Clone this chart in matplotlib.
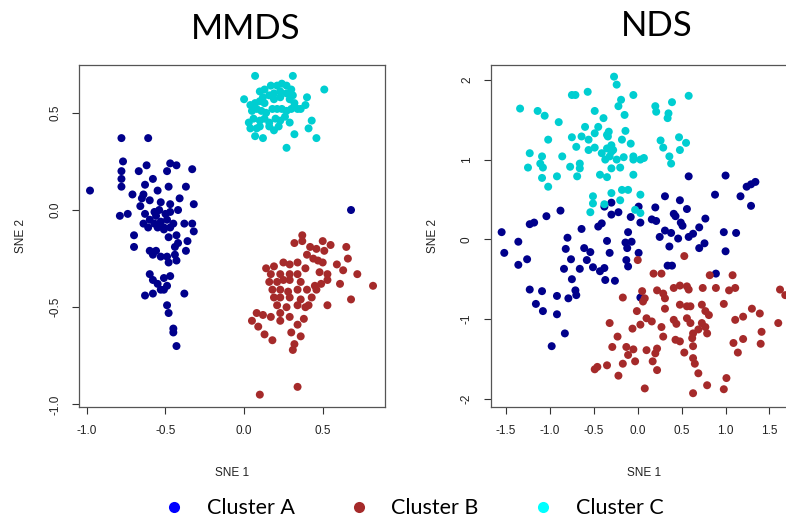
import numpy as np
import matplotlib
matplotlib.use("Agg")
from matplotlib import pyplot as plt
from matplotlib.lines import Line2D

# ---- MMDS panel ----
mmds_a_x = [-0.98, -0.78, -0.61, -0.77, -0.78, -0.78, -0.78, -0.62, -0.67, -0.58, -0.63, -0.47, -0.43,
            -0.49, -0.33, -0.37, -0.48, -0.55, -0.71, -0.64, -0.65, -0.41, -0.60, -0.53, -0.47, -0.32,
            -0.66, -0.79, -0.74, -0.63, -0.57, -0.54, -0.50, -0.47, -0.42, -0.64, -0.60, -0.57, -0.53,
            -0.49, -0.45, -0.38, -0.33, -0.32, -0.61, -0.55, -0.51, -0.47, -0.43, -0.36, -0.42, -0.70,
            -0.70, -0.48, -0.44, -0.60, -0.58, -0.53, -0.49, -0.37, -0.56, -0.43, -0.48, -0.60, -0.58,
            -0.55, -0.51, -0.47, -0.49, -0.53, -0.58, -0.63, -0.38, -0.49, -0.48, -0.45, -0.45, -0.43,
            -0.51, -0.44, -0.56, -0.51, 0.68]
mmds_a_y = [0.10, 0.37, 0.37, 0.25, 0.20, 0.16, 0.12, 0.23, 0.20, 0.16, 0.13, 0.24, 0.23,
            0.20, 0.21, 0.12, 0.12, 0.10, 0.08, 0.08, 0.06, 0.06, 0.05, 0.04, 0.03, 0.03,
            0.02, -0.03, -0.02, -0.02, -0.01, 0.00, -0.02, -0.01, 0.00, -0.07, -0.05, -0.07, -0.06,
            -0.05, -0.07, -0.07, -0.07, -0.11, -0.09, -0.09, -0.10, -0.09, -0.13, -0.16, -0.17, -0.13,
            -0.19, -0.14, -0.19, -0.21, -0.23, -0.24, -0.24, -0.21, -0.21, -0.26, -0.27, -0.33, -0.36,
            -0.38, -0.35, -0.34, -0.39, -0.41, -0.43, -0.44, -0.43, -0.49, -0.53, -0.61, -0.63, -0.70,
            -0.41, -0.23, -0.03, -0.09, 0.00]

mmds_b_x = [0.37, 0.32, 0.37, 0.50, 0.55, 0.42, 0.46, 0.51, 0.65, 0.40, 0.44, 0.47, 0.50, 0.66,
            0.14, 0.19, 0.25, 0.29, 0.34, 0.39, 0.59, 0.63, 0.72, 0.17, 0.23, 0.29, 0.34, 0.48,
            0.53, 0.53, 0.16, 0.21, 0.25, 0.29, 0.36, 0.45, 0.49, 0.61, 0.82, 0.18, 0.23, 0.28,
            0.34, 0.40, 0.46, 0.19, 0.23, 0.29, 0.36, 0.43, 0.68, 0.21, 0.27, 0.34, 0.39, 0.41,
            0.53, 0.08, 0.12, 0.17, 0.23, 0.05, 0.23, 0.29, 0.38, 0.09, 0.34, 0.30, 0.36, 0.13,
            0.18, 0.32, 0.31, 0.10, 0.34]
mmds_b_y = [-0.13, -0.17, -0.16, -0.16, -0.18, -0.19, -0.20, -0.21, -0.19, -0.23, -0.25, -0.26, -0.27, -0.25,
            -0.30, -0.29, -0.27, -0.28, -0.27, -0.30, -0.28, -0.31, -0.33, -0.33, -0.33, -0.33, -0.33, -0.32,
            -0.33, -0.36, -0.37, -0.37, -0.36, -0.36, -0.37, -0.39, -0.38, -0.38, -0.39, -0.41, -0.41, -0.42,
            -0.41, -0.41, -0.41, -0.45, -0.45, -0.45, -0.46, -0.45, -0.46, -0.49, -0.50, -0.49, -0.50, -0.49,
            -0.49, -0.53, -0.54, -0.55, -0.53, -0.57, -0.57, -0.55, -0.56, -0.60, -0.59, -0.63, -0.65, -0.64,
            -0.67, -0.69, -0.72, -0.95, -0.91]

mmds_c_x = [0.07, 0.31, 0.51, 0.00, 0.40, 0.39, 0.43, 0.41, 0.46, 0.32, 0.27, 0.07, 0.12, 0.19, 0.08,
            0.04, 0.10, 0.13, 0.17, 0.21, 0.24, 0.27, 0.30, 0.12, 0.16, 0.19, 0.23, 0.27, 0.31, 0.04,
            0.07, 0.10, 0.13, 0.19, 0.23, 0.29, 0.32, 0.34, 0.05, 0.08, 0.11, 0.14, 0.18, 0.21, 0.24,
            0.27, 0.30, 0.06, 0.10, 0.13, 0.16, 0.20, 0.23, 0.26, 0.29, 0.10, 0.16, 0.22, 0.03, 0.36]
mmds_c_y = [0.69, 0.69, 0.62, 0.57, 0.58, 0.54, 0.46, 0.42, 0.37, 0.39, 0.32, 0.38, 0.37, 0.41, 0.42,
            0.42, 0.61, 0.62, 0.64, 0.64, 0.65, 0.64, 0.62, 0.58, 0.59, 0.60, 0.61, 0.60, 0.59, 0.54,
            0.55, 0.56, 0.55, 0.57, 0.58, 0.57, 0.55, 0.52, 0.51, 0.52, 0.51, 0.50, 0.52, 0.52, 0.52,
            0.51, 0.52, 0.47, 0.46, 0.47, 0.45, 0.47, 0.46, 0.48, 0.45, 0.43, 0.43, 0.43, 0.45, 0.52]

# ---- NDS panel ----
nds_a_x = [-1.55, -1.52, -1.36, -1.36, -1.26, -1.23, -1.18, -1.04, -0.88, -1.23, -1.09, -1.16, -1.08,
           -0.92, -0.92, -0.83, -0.98, -0.80, -0.82, -0.76, -0.84, -0.75, -0.79, -0.71, -0.70, -0.66,
           -0.64, -0.61, -0.54, -0.58, -0.51, -0.43, -0.38, -0.37, -0.26, -0.45, -0.41, -0.35, -0.32,
           -0.38, -0.30, -0.30, -0.22, -0.11, -0.14, -0.12, -0.07, -0.13, -0.11, 0.01, -0.08, 0.01,
           0.03, 0.16, 0.21, 0.20, 0.31, 0.41, 0.43, 0.48, 0.49, 0.51, 0.56, 0.46, 0.31, 0.38, 0.25,
           0.36, 0.34, 0.39, 0.58, 0.63, 0.70, 0.77, 0.70, 0.76, 0.58, 1.00, 0.88, 1.17, 1.24, 1.29,
           1.34, 1.29, 0.98, 1.12, 1.00, 0.89, 0.03]
nds_a_y = [0.09, -0.17, -0.03, -0.32, -0.25, 0.19, 0.21, 0.29, 0.36, -0.63, -0.65, -0.81, -0.90,
           -0.71, -0.94, -1.18, -1.34, 0.02, -0.12, -0.25, -0.37, -0.50, -0.74, -0.64, -0.70, -0.37,
           0.13, -0.11, -0.16, -0.26, -0.35, -0.40, -0.36, -0.51, -0.52, 0.16, 0.20, -0.02, -0.17,
           0.41, 0.46, 0.31, 0.34, 0.09, -0.04, -0.11, -0.03, -0.26, -0.34, -0.17, 0.28, 0.41,
           0.21, 0.25, 0.23, 0.40, 0.54, 0.32, 0.29, 0.49, 0.21, 0.17, 0.38, 0.01, 0.11, 0.08, 0.03,
           -0.09, -0.33, -0.33, 0.03, 0.07, 0.15, 0.26, -0.11, -0.05, 0.79, 0.80, 0.56, 0.54, 0.66, 0.69,
           0.72, 0.42, 0.09, 0.08, -0.15, -0.43, -0.73]

nds_b_x = [0.00, 0.53, 0.18, 0.27, 0.82, 1.08, -0.17, 0.05, 0.08, 0.06, -0.01, -0.06, 0.03, 0.10,
           0.16, 0.22, 0.29, 0.31, 0.31, 0.41, 0.48, 0.56, 0.58, 0.74, 0.89, 1.04, 1.11, 0.48, 0.56,
           0.60, 0.73, 0.77, 0.81, 0.98, 1.11, 1.20, 1.30, 1.39, 1.60, 1.62, 1.68, 1.41, 1.40, 1.20,
           1.09, 1.14, 0.41, 0.44, 0.56, 0.60, 0.63, 0.62, 0.73, 0.77, 0.79, 0.69, 0.43, 0.48, 0.53,
           0.63, 0.63, 0.65, 0.69, 0.79, 1.01, 0.98, 0.63, 0.08, 0.27, 0.29, 0.10, 0.22, 0.20, -0.05,
           -0.03, 0.17, 0.22, -0.13, -0.11, -0.29, -0.17, -0.22, -0.35, -0.49, -0.46, -0.23, -0.32]
nds_b_y = [-0.26, -0.21, -0.43, -0.43, -0.45, -0.45, -0.73, -0.65, -0.74, -0.78, -0.90, -1.12, -1.07, -0.99,
           -1.03, -0.64, -0.68, -0.74, -0.87, -0.61, -0.58, -0.59, -0.63, -0.61, -0.61, -0.64, -0.61, -0.82, -0.84,
           -0.84, -0.82, -0.90, -0.95, -0.81, -1.01, -0.97, -0.87, -0.93, -1.05, -0.63, -0.70, -1.16, -1.31, -1.25,
           -1.30, -1.42, -1.01, -1.06, -0.99, -1.05, -1.18, -1.24, -1.05, -1.10, -1.18, -1.13, -1.26, -1.28, -1.42,
           -1.34, -1.49, -1.56, -1.68, -1.83, -1.74, -1.88, -1.93, -1.87, -1.10, -1.22, -1.39, -1.37, -1.43, -1.38,
           -1.53, -1.53, -1.64, -1.35, -1.45, -1.35, -1.56, -1.71, -1.58, -1.63, -1.60, -1.22, -1.05]

nds_c_x = [-0.27, -0.24, -0.19, -0.05, -0.57, -0.71, -0.75, -1.34, -1.14, -1.06, -0.90, -0.49, -0.39,
           -0.22, -0.15, 0.20, 0.21, 0.39, 0.35, 0.34, 0.58, -1.02, -0.75, -0.64, -0.56, -0.49, -0.33,
           -0.34, -0.14, -0.18, -0.08, 0.26, 0.29, 0.47, 0.55, 0.48, 0.36, 0.38, -1.23, -1.09, -1.11,
           -1.08, -1.25, -1.09, -1.02, -0.92, -0.86, -0.77, -0.66, -0.69, -0.66, -0.56, -0.49, -0.41,
           -0.35, -0.32, -0.28, -0.24, -0.16, -0.05, -0.05, 0.07, -0.43, -0.35, -0.30, -0.20, -0.05,
           0.03, -0.30, -0.18, -0.11, -0.51, -0.51, -0.54, -0.38, -0.20, 0.03, -0.03, 0.03, -0.30,
           -0.37, -0.30, -0.70, -0.60, -0.45, -0.35]
nds_c_y = [2.04, 1.94, 1.75, 1.81, 1.85, 1.81, 1.81, 1.64, 1.61, 1.55, 1.47, 1.61, 1.52,
           1.67, 1.56, 1.67, 1.60, 1.72, 1.58, 1.52, 1.80, 1.25, 1.28, 1.29, 1.25, 1.33, 1.35,
           1.29, 1.36, 1.25, 1.20, 1.24, 1.15, 1.28, 1.21, 1.12, 1.04, 0.95, 1.08, 1.04, 0.95,
           0.90, 0.90, 0.77, 0.66, 0.79, 1.04, 0.91, 0.95, 0.79, 0.89, 1.12, 1.15, 1.08, 1.14,
           1.04, 1.12, 1.00, 1.03, 1.04, 1.00, 1.02, 0.81, 0.78, 0.89, 0.90, 0.81,
           1.00, 0.58, 0.62, 0.62, 0.54, 0.45, 0.34, 0.44, 0.49, 0.56, 0.37, 0.33, 1.10,
           1.00, 1.18, 1.16, 1.41, 1.41, 1.31]

panel_titles = ["MMDS", "NDS"]
legend_labels = ["Cluster A", "Cluster B", "Cluster C"]
point_colors = ["#00008B", "#A52A2A", "#00CED1"]
legend_colors = ["#0000FF", "#A52A2A", "#00FFFF"]

plt.rcParams["font.family"] = ["Liberation Sans", "DejaVu Sans"]
fig = plt.figure(figsize=(7.86, 5.21), dpi=100)

ax1 = fig.add_axes([0.1009, 0.2194, 0.3889, 0.6558])
ax2 = fig.add_axes([0.6247, 0.2194, 0.3889, 0.6558])

panels = [
    (ax1, [(mmds_a_x, mmds_a_y), (mmds_b_x, mmds_b_y), (mmds_c_x, mmds_c_y)],
     (-1.048, 0.896), (-1.012, 0.746), [-1.0, -0.5, 0.0, 0.5], [-1.0, -0.5, 0.0, 0.5], "{:.1f}", "{:.1f}"),
    (ax2, [(nds_a_x, nds_a_y), (nds_b_x, nds_b_y), (nds_c_x, nds_c_y)],
     (-1.671, 1.81), (-2.099, 2.186), [-1.5, -1.0, -0.5, 0.0, 0.5, 1.0, 1.5], [-2, -1, 0, 1, 2], "{:.1f}", "{:d}"),
]

for ax, series, xl, yl, xt, yt, xf, yf in panels:
    for (xs, ys), c in zip(series, point_colors):
        ax.scatter(xs, ys, s=33, color=c, edgecolors="none", zorder=3)
    ax.set_xlim(*xl)
    ax.set_ylim(*yl)
    ax.set_xticks(xt)
    ax.set_xticklabels([xf.format(v) for v in xt])
    ax.set_yticks(yt)
    ax.set_yticklabels([yf.format(v) for v in yt], rotation=90, va="center")
    ax.tick_params(direction="out", length=5, width=0.8, colors="#333333", labelsize=8.5,
                   labelcolor="#222222", pad=8)
    for sp in ax.spines.values():
        sp.set_color("#555555")
        sp.set_linewidth(0.9)
    ax.set_xlabel("SNE 1", fontsize=8.5, labelpad=22, color="#222222")

ax1.set_ylabel("SNE 2", fontsize=8.5, labelpad=16, color="#222222")
ax2.set_ylabel("SNE 2", fontsize=8.5, labelpad=16, color="#222222")

fig.text(0.312, 0.944, panel_titles[0], fontsize=25, family="Lato", ha="center", va="center")
fig.text(0.835, 0.950, panel_titles[1], fontsize=25, family="Lato", ha="center", va="center")

handles = [Line2D([], [], marker="o", linestyle="none", markersize=8, markerfacecolor=c,
                  markeredgecolor="none") for c in legend_colors]
fig.legend(handles, legend_labels, loc="center", bbox_to_anchor=(0.526, 0.024), ncol=3,
           frameon=False, prop={"family": "Lato", "size": 15.5}, columnspacing=2.5,
           handletextpad=1.0, handlelength=1.0)

fig.savefig("out.png", dpi=100)
